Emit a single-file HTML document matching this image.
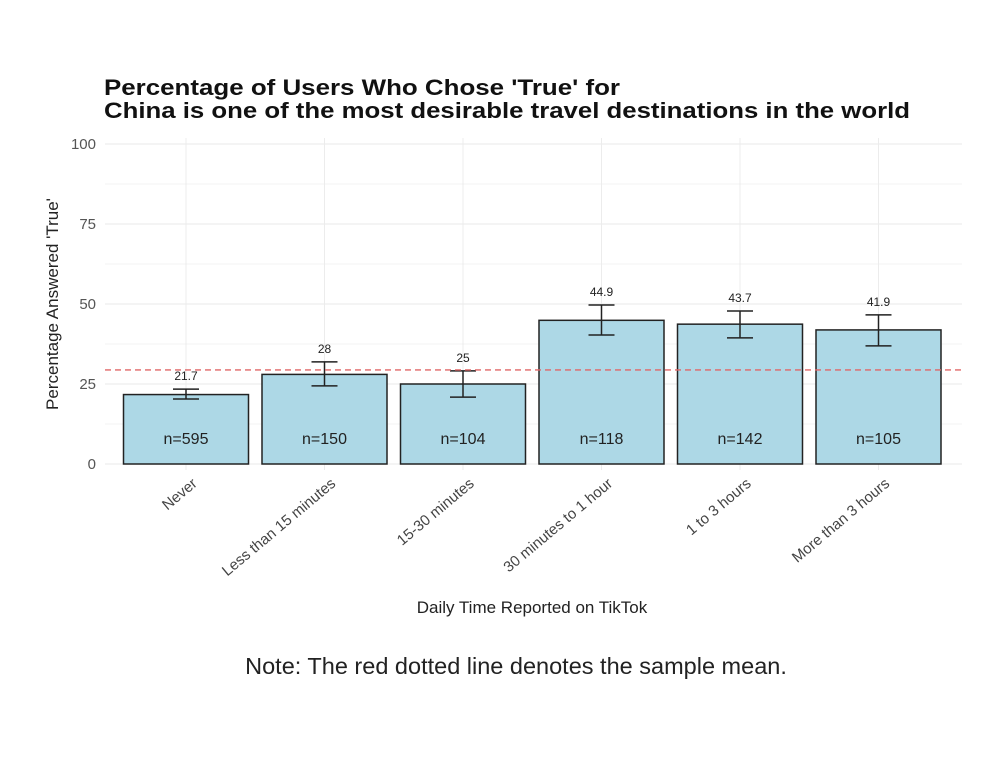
<!DOCTYPE html>
<html><head><meta charset="utf-8"><style>
body{margin:0;background:#fff;width:1000px;height:771px;overflow:hidden;font-family:"Liberation Sans",sans-serif}
</style></head><body>
<svg id="chart" width="1000" height="771" xmlns="http://www.w3.org/2000/svg">
<text x="104" y="95" font-size="22" font-weight="bold" fill="#111" textLength="516" lengthAdjust="spacingAndGlyphs">Percentage of Users Who Chose 'True' for</text>
<text x="104" y="118" font-size="22" font-weight="bold" fill="#111" textLength="806" lengthAdjust="spacingAndGlyphs">China is one of the most desirable travel destinations in the world</text>
<g id="grid"></g><g id="marks"></g><g id="axes"></g>
<text transform="translate(58,304) rotate(-90)" text-anchor="middle" font-size="17" fill="#222">Percentage Answered 'True'</text>
<text x="532" y="613" text-anchor="middle" font-size="17" fill="#222">Daily Time Reported on TikTok</text>
<text x="516" y="674" text-anchor="middle" font-size="23.5" fill="#222">Note: The red dotted line denotes the sample mean.</text>
</svg>
<script>
const categories=["Never","Less than 15 minutes","15-30 minutes","30 minutes to 1 hour","1 to 3 hours","More than 3 hours"];
const values=[21.7,28,25,44.9,43.7,41.9];
const lower=[20.3,24.4,20.9,40.3,39.4,36.9];
const upper=[23.4,31.9,29.1,49.7,47.8,46.6];
const counts=[595,150,104,118,142,105];
const yTicks=[0,25,50,75,100];
const meanValue=29.4;
const NS="http://www.w3.org/2000/svg";
const y=v=>464-v*3.2;
const x=i=>186+i*138.5;
const bw=125;
function mk(t,a,p){const e=document.createElementNS(NS,t);for(const k in a)e.setAttribute(k,a[k]);p.appendChild(e);return e;}
const grid=document.getElementById('grid'),marks=document.getElementById('marks'),axes=document.getElementById('axes');
for(let v=12.5;v<100;v+=25){const g=mk('line',{x1:105,x2:962,y1:y(v),y2:y(v),stroke:'#f3f3f3','stroke-width':1},grid);

}
yTicks.forEach(v=>{const g=mk('line',{x1:105,x2:962,y1:y(v),y2:y(v),stroke:'#e8e8e8','stroke-width':1},grid);


const t=mk('text',{x:96,y:y(v)+5,'text-anchor':'end','font-size':15,fill:'#555'},axes);t.textContent=v;

});
categories.forEach((c,i)=>{const g=mk('line',{x1:x(i),x2:x(i),y1:138,y2:470,stroke:'#ececec','stroke-width':1},grid);

});
categories.forEach((c,i)=>{
const b=mk('rect',{x:x(i)-bw/2,y:y(values[i]),width:bw,height:y(0)-y(values[i]),fill:'#add8e6',stroke:'#222','stroke-width':1.5},marks);


const e=mk('path',{d:`M${x(i)-13},${y(upper[i])}H${x(i)+13}M${x(i)},${y(upper[i])}V${y(lower[i])}M${x(i)-13},${y(lower[i])}H${x(i)+13}`,stroke:'#222','stroke-width':1.5,fill:'none'},marks);


const vl=mk('text',{x:x(i),y:y(upper[i])-9,'text-anchor':'middle','font-size':12,fill:'#222'},marks);vl.textContent=values[i];


const n=mk('text',{x:x(i),y:444,'text-anchor':'middle','font-size':16,fill:'#222'},marks);n.textContent='n='+counts[i];


const t=mk('text',{transform:`translate(${x(i)+12},${485}) rotate(-40)`,'text-anchor':'end','font-size':15,fill:'#444'},axes);t.textContent=c;


});
const m=mk('line',{x1:105,x2:962,y1:y(meanValue),y2:y(meanValue),stroke:'#e06666','stroke-width':1.3,'stroke-dasharray':'6,4'},marks);


</script>
</body></html>
